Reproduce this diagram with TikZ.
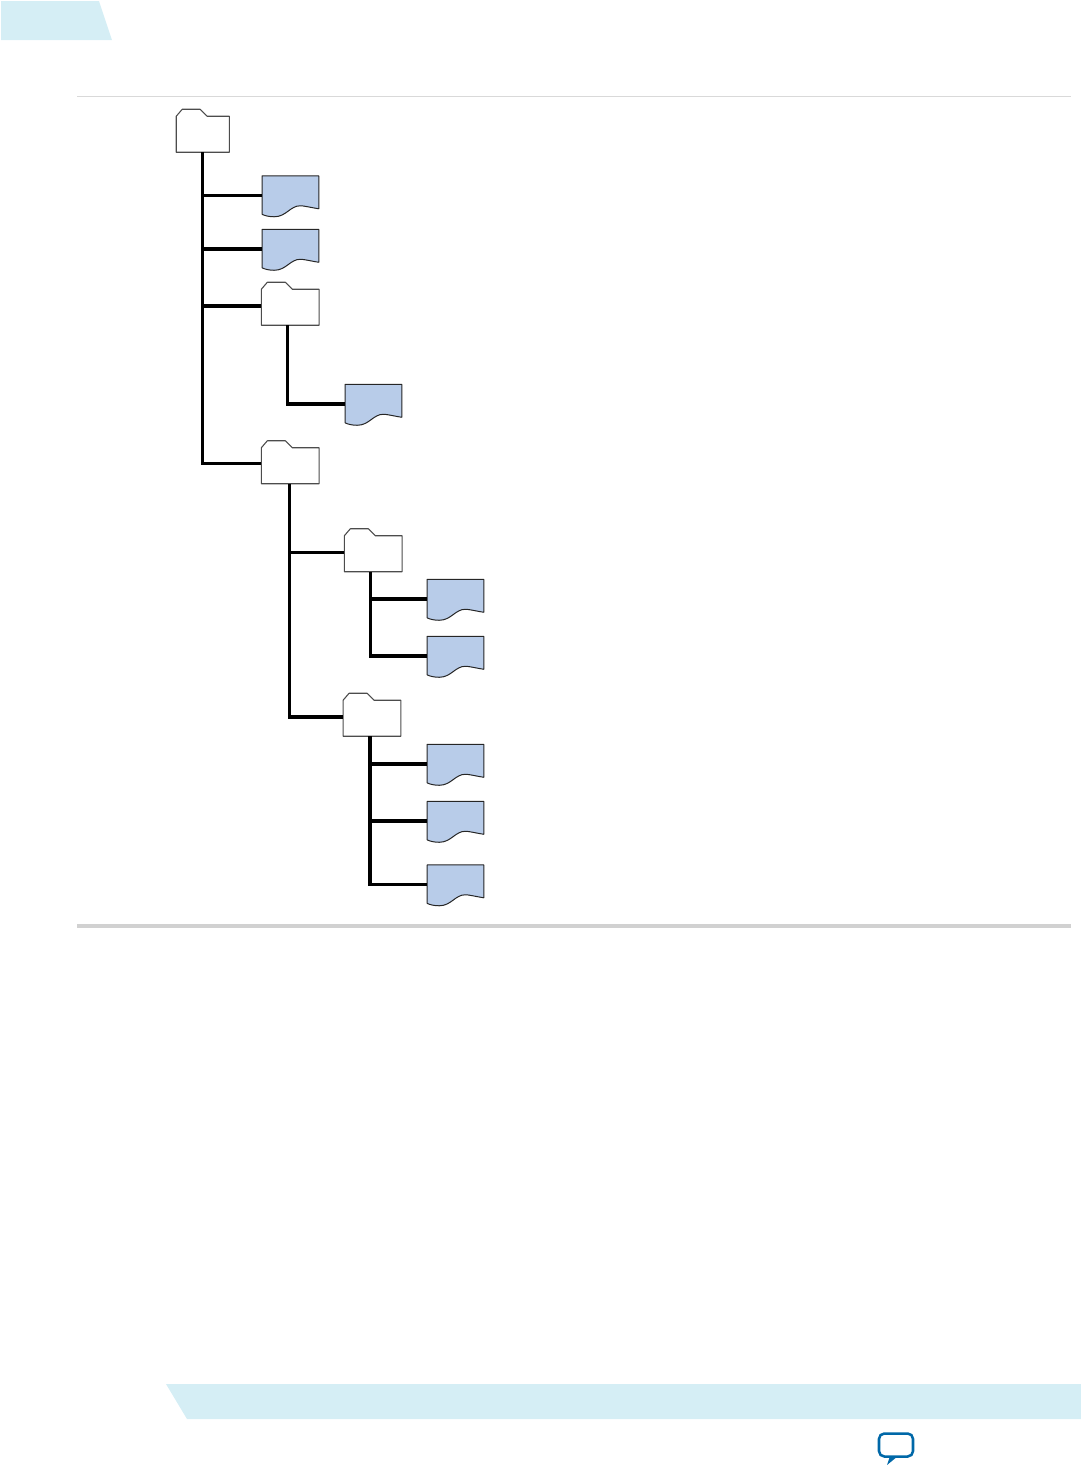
\documentclass[tikz,border=0pt]{standalone}
\usepackage{xcolor}
\usepackage{tikz}
\usetikzlibrary{arrows.meta, positioning}
\definecolor{bandblue}{HTML}{D5EEF5}
\definecolor{docblue}{HTML}{B8CCE9}
\definecolor{iconblue}{HTML}{0068A8}
\begin{document}
\begin{tikzpicture}[
  x=0.75pt, y=-0.75pt,
  band/.style   = {fill=bandblue, draw=none},
  folder/.style = {minimum width=43pt, minimum height=28.5pt, inner sep=0pt,
                   append after command={\pgfextra{
                     \draw[draw=black!70, fill=white, line width=0.8pt, line join=round]
                       (\tikzlastnode.south west) -- ++(0pt,27pt) -- ++(4.5pt,5.25pt)
                       -- ++(13.5pt,0pt) -- ++(5.25pt,-5.25pt)
                       -- ([yshift=27pt]\tikzlastnode.south east)
                       -- (\tikzlastnode.south east) -- cycle;
                   }}},
  page/.style   = {minimum width=42.4pt, minimum height=30pt, inner sep=0pt,
                   append after command={\pgfextra{
                     \draw[draw=black!85, fill=docblue, line width=0.75pt, line join=round,
                           shift={(\tikzlastnode.south west)}]
                       (0pt,1pt) -- (0pt,30pt) -- (42.4pt,30pt) -- (42.4pt,5.25pt)
                       .. controls (35.25pt,6.4pt) and (31.5pt,7.5pt) .. (28.5pt,7.5pt)
                       .. controls (21pt,7.5pt) and (18pt,-.75pt) .. (9pt,-.75pt)
                       .. controls (5.25pt,-.75pt) and (2.25pt,0pt) .. (0pt,1pt) -- cycle;
                   }}},
  branch/.style = {draw=black, line width=2.4pt},
  rulethin/.style  = {draw=black!15, line width=0.75pt},
  rulethick/.style = {draw=black!18, line width=3pt},
]
  \useasboundingbox (0,0) rectangle (1081,1465);
  % page furniture
  \fill[band] (1,1) -- (99,1) -- (112,40) -- (1,40) -- cycle;
  \fill[band] (166,1384) -- (1081,1384) -- (1081,1419) -- (187,1419) -- cycle;
  \coordinate (topl) at (77,96.5);
  \coordinate (topr) at (1071,96.5);
  \coordinate (botl) at (77,926);
  \coordinate (botr) at (1071,926);
  \draw[rulethin] (topl) -- (topr);
  \draw[rulethick] (botl) -- (botr);
  % folders and files
  \node[folder, minimum width=39.4pt] (root) at (202.75,133) {};
  \node[page]   (fileA) at (290.75,195.5) {};
  \node[page]   (fileB) at (290.75,249) {};
  \node[folder] (subA)  at (290.25,306) {};
  \node[page]   (fileC) at (373.75,404) {};
  \node[folder] (subB)  at (290.25,464.5) {};
  \node[folder] (subBA) at (373.25,552.5) {};
  \node[page]   (fileD) at (455.75,599) {};
  \node[page]   (fileE) at (455.75,656) {};
  \node[folder] (subBB) at (372,717) {};
  \node[page]   (fileF) at (455.75,764) {};
  \node[page]   (fileG) at (455.75,821) {};
  \node[page]   (fileH) at (455.75,884.5) {};
  % tree lines
  \draw[branch] (root.south) |- (fileA.west);
  \draw[branch] (root.south) |- (fileB.west);
  \draw[branch] (root.south) |- (subA.west);
  \draw[branch] (root.south) |- ([yshift=0.9pt]subB.west);
  \draw[branch] ([xshift=-2pt]subA.south) |- (fileC.west);
  \draw[branch] ([xshift=-0.5pt]subB.south) |- (subBA.west);
  \draw[branch] ([xshift=-0.5pt]subB.south) |- (subBB.west);
  \draw[branch] ([xshift=-2.2pt]subBA.south) |- (fileD.west);
  \draw[branch] ([xshift=-2.2pt]subBA.south) |- (fileE.west);
  \draw[branch] ([xshift=-1.5pt]subBB.south) |- (fileF.west);
  \draw[branch] ([xshift=-1.5pt]subBB.south) |- (fileG.west);
  \draw[branch] ([xshift=-1.5pt]subBB.south) |- (fileH.west);
  % feedback icon
  \node[draw=iconblue, line width=1.9pt, rounded corners=4pt, minimum width=25.5pt,
        minimum height=17.25pt, inner sep=0pt] (bubble) at (896,1445) {};
  \fill[iconblue] (890,1456) -- (887,1465) -- (898,1456) -- cycle;
\end{tikzpicture}
\end{document}
